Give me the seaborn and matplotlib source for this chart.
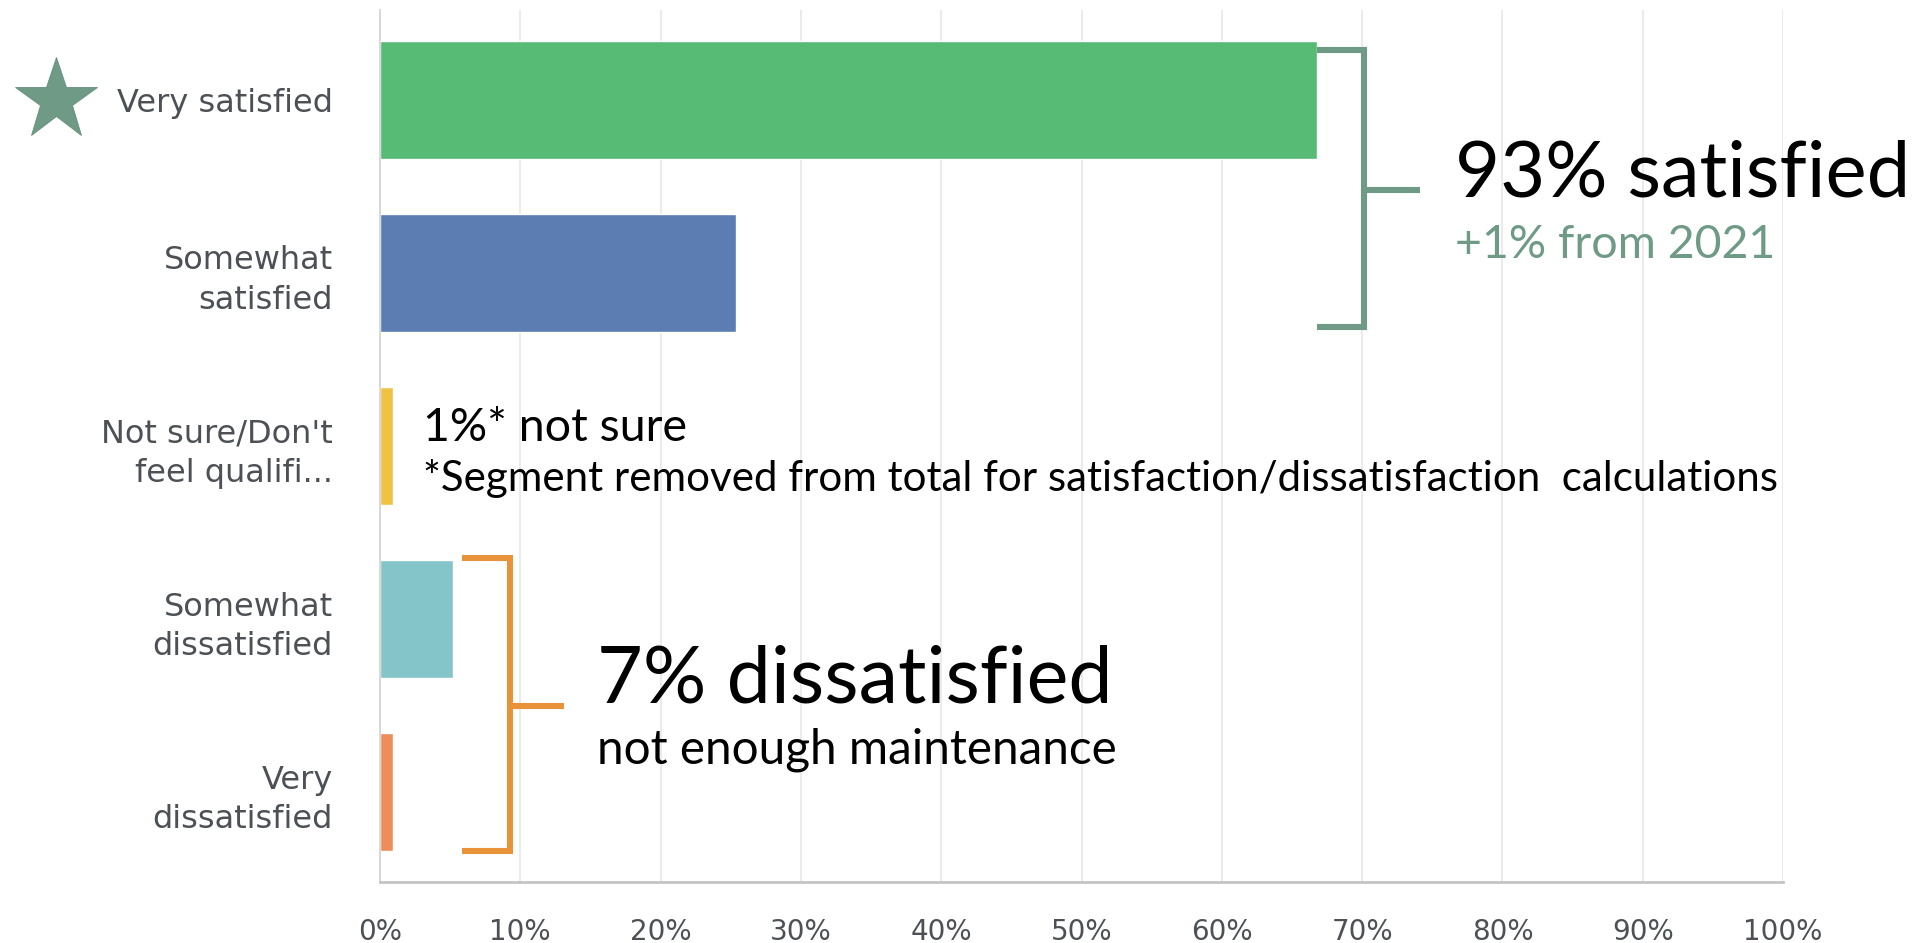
import matplotlib
matplotlib.use("Agg")
import matplotlib.pyplot as plt
import matplotlib.transforms as mtransforms
import seaborn as sns
import pandas as pd

# Survey responses
categories = [
    "Very satisfied",
    "Somewhat\nsatisfied",
    "Not sure/Don't\nfeel qualifi...",
    "Somewhat\ndissatisfied",
    "Very\ndissatisfied",
]
shares = [66.8, 25.4, 0.9, 5.2, 0.9]
bar_colors = ["#57BB75", "#5B7DB1", "#F0C244", "#84C5C9", "#EE8D5A"]
tick_values = [0, 10, 20, 30, 40, 50, 60, 70, 80, 90, 100]
tick_labels = [f"{v}%" for v in tick_values]

satisfied_total = "93% satisfied"
satisfied_change = "+1% from 2021"
unsure_note = "1%* not sure"
unsure_footnote = "*Segment removed from total for satisfaction/dissatisfaction  calculations"
dissatisfied_total = "7% dissatisfied"
dissatisfied_reason = "not enough maintenance"

ACCENT_GREEN = "#6E9A86"
ACCENT_ORANGE = "#E8923A"

sns.set_theme(style="white")
plt.rcParams["font.family"] = ["DejaVu Sans"]

df = pd.DataFrame({"category": categories, "share": shares})

fig = plt.figure(figsize=(19.21, 9.43), dpi=100)
ax = fig.add_axes([0.1978, 0.0647, 0.9282 - 0.1978, 0.9894 - 0.0647])

sns.barplot(
    data=df, y="category", x="share", hue="category",
    palette=bar_colors, orient="h", width=0.68, dodge=False,
    legend=False, saturation=1, ax=ax,
)

ax.set_xlim(0, 100)
ax.set_ylim(4.52, -0.52)
ax.set_xticks(tick_values)
ax.set_xticklabels(tick_labels, fontsize=20, color="#4d5156")
ax.tick_params(axis="x", length=0, pad=26)
ax.tick_params(axis="y", length=0, pad=34, labelsize=23, labelcolor="#4d5156")
for lab in ax.get_yticklabels():
    lab.set_multialignment("right")
    lab.set_linespacing(1.36)
ax.set_xlabel("")
ax.set_ylabel("")

ax.grid(axis="x", color="#e8e8e8", linewidth=1.2)
ax.set_axisbelow(True)
for side in ("top", "right"):
    ax.spines[side].set_visible(False)
ax.spines["left"].set_color("#d2d2d2")
ax.spines["left"].set_linewidth(1.2)
ax.spines["bottom"].set_color("#c4c4c4")
ax.spines["bottom"].set_linewidth(2.0)

# Star beside the top category
star_tf = mtransforms.blended_transform_factory(ax.transAxes, ax.transData)
ax.plot([-0.2306], [0.0], marker="*", markersize=62, color=ACCENT_GREEN,
        markeredgecolor="#668f7c", markeredgewidth=0.6,
        transform=star_tf, clip_on=False)


def bracket(x_start, x_spine, x_tick, y_top, y_bottom, y_mid, color):
    kw = dict(color=color, linewidth=4.4, solid_capstyle="butt",
              solid_joinstyle="miter", clip_on=False)
    ax.plot([x_start, x_spine, x_spine, x_start],
            [y_top, y_top, y_bottom, y_bottom], **kw)
    ax.plot([x_spine, x_tick], [y_mid, y_mid], **kw)


bracket(66.8, 70.1, 74.1, -0.29, 1.31, 0.52, ACCENT_GREEN)
bracket(5.85, 9.26, 13.1, 2.65, 4.34, 3.50, ACCENT_ORANGE)

lato = ["Lato", "DejaVu Sans"]
ax.text(76.6, 0.56, satisfied_total, fontsize=56, family=lato,
        color="black", va="baseline", ha="left", clip_on=False)
ax.text(76.6, 0.915, satisfied_change, fontsize=33.5, family=lato,
        color=ACCENT_GREEN, va="baseline", ha="left", clip_on=False)
ax.text(3.06, 1.97, unsure_note, fontsize=33.5, family=lato,
        color="black", va="baseline", ha="left")
ax.text(3.06, 2.26, unsure_footnote, fontsize=30.3, family=lato,
        color="black", va="baseline", ha="left")
ax.text(15.5, 3.48, dissatisfied_total, fontsize=57, family=lato,
        color="black", va="baseline", ha="left")
ax.text(15.5, 3.835, dissatisfied_reason, fontsize=34.3, family=lato,
        color="black", va="baseline", ha="left")

fig.savefig("out.png", dpi=100, facecolor="white")
